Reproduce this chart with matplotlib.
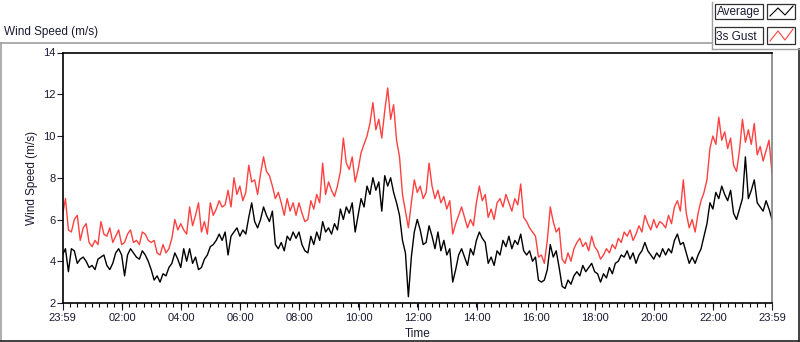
import numpy as np
import matplotlib
matplotlib.use("Agg")
import matplotlib.pyplot as plt
from matplotlib.lines import Line2D
from matplotlib.patches import Rectangle
from matplotlib.ticker import FixedLocator, MultipleLocator

plt.rcParams['font.family'] = ['Liberation Sans', 'DejaVu Sans']

# samples every 6 minutes, starting at 23:59 (t = 0) and ending at 23:59 next day (t = 1440)
step_min = 6

avg_speed = [
    4.3, 4.6, 3.5, 4.6, 4.5, 3.9, 4.1, 4.2, 4.0, 3.7,
    3.8, 3.6, 4.1, 4.2, 4.3, 3.8, 3.6, 3.9, 4.4, 4.6,
    4.3, 3.3, 4.3, 4.6, 4.4, 4.2, 4.1, 4.5, 4.3, 4.0,
    3.6, 3.1, 3.3, 3.0, 3.4, 3.3, 3.7, 3.9, 4.4, 4.1,
    3.7, 4.6,
    4.0, 4.6, 3.9, 4.2, 3.6, 3.7, 4.1, 4.3, 4.7, 4.8,
    5.0, 5.3, 5.0, 5.4, 4.3, 5.2, 5.4, 5.6, 5.2, 5.5,
    5.3, 6.1, 6.8, 5.9, 5.6, 6.0, 6.6, 6.2, 5.9, 6.4,
    4.8, 4.6, 4.9, 4.5, 5.2, 5.0, 5.4, 5.1, 5.4, 4.8,
    4.5,
    4.4, 5.2, 4.8, 5.4, 5.0, 5.9, 5.4, 5.6, 5.3, 5.8,
    5.5, 6.5, 6.0, 6.6, 6.3, 6.8, 5.4, 6.2, 7.0, 6.6,
    7.6, 7.2, 8.0, 7.4, 7.8, 6.4, 8.1, 7.6, 8.0, 7.3,
    6.8, 6.2, 5.0, 4.4, 2.3, 4.2, 5.4, 6.0, 5.5, 4.8,
    4.9, 5.7, 5.2, 4.6, 5.4, 4.5, 5.0, 4.3, 4.6, 3.0,
    3.6, 4.3, 4.6, 4.2, 3.8, 4.6, 4.3, 5.0, 5.4, 5.1,
    4.9, 3.9, 4.2, 3.8, 4.5, 4.3, 5.0, 4.7, 5.2, 4.6,
    5.0, 4.8, 5.3, 4.5, 4.3, 4.5, 4.0, 4.2, 3.1, 3.0,
    3.1,
    3.6, 4.8, 4.2, 4.5, 3.7, 2.8, 2.7, 3.1, 2.9, 3.3,
    3.5, 3.3, 3.8, 3.5, 3.7, 3.9, 3.5, 3.4, 3.0, 3.4,
    3.2, 3.7, 3.4, 3.9, 4.0, 4.3, 4.2, 4.5, 4.1, 4.4,
    3.9, 4.3, 4.5, 4.9, 4.5, 4.3, 4.1, 4.4, 4.2, 4.6,
    4.3, 4.6, 4.4, 5.0, 5.3, 4.8, 4.9, 4.4, 3.9, 4.2,
    3.9, 4.3, 4.6, 5.2, 5.8, 6.8, 6.5, 7.3, 7.0, 7.6,
    7.2, 6.9, 7.4, 6.3, 6.0, 6.5, 7.0, 9.0, 7.0, 7.4,
    7.9, 6.8, 6.6, 6.4, 6.9, 6.5, 6.0,
]

gust_speed = [
    6.2, 7.0, 5.5, 5.4, 6.0, 6.2, 5.0, 5.6, 5.8, 4.9,
    4.7, 5.0, 4.8, 5.9, 5.3, 5.2, 5.6, 4.9, 5.2, 5.5,
    4.8, 4.9, 5.3, 5.5, 4.9, 5.0, 4.8, 5.4, 5.3, 5.0,
    4.9, 5.0, 4.4, 4.3, 4.8, 4.4, 4.6, 5.1, 6.0, 5.5,
    5.8, 5.5,
    5.3, 6.6, 5.7, 6.2, 6.8, 5.4, 5.9, 5.3, 6.8, 6.2,
    6.5, 6.9, 6.6, 6.7, 7.4, 6.6, 8.0, 7.2, 7.6, 6.9,
    7.3, 8.6, 7.8, 7.9, 7.2, 8.2, 9.0, 8.3, 8.1, 7.6,
    7.0, 7.3, 6.8, 6.2, 7.0, 6.4, 6.8, 6.2, 6.8, 6.3,
    5.9,
    6.0, 6.9, 6.5, 7.2, 6.8, 8.7, 7.2, 7.8, 7.4, 7.1,
    7.6, 8.3, 9.9, 8.7, 8.4, 9.0, 7.8, 8.4, 9.2, 9.6,
    10.0, 10.6, 11.6, 10.3, 10.8, 9.9, 11.2, 12.3, 10.8, 11.5,
    9.8, 9.0, 7.2, 6.4, 5.6, 6.8, 7.9, 7.3, 7.6, 7.0,
    7.3, 8.7, 7.6, 7.0, 7.4, 6.8, 7.1, 6.5, 6.9, 5.3,
    5.8, 6.2, 6.6, 6.1, 5.6, 6.0, 5.7, 6.8, 7.6, 6.9,
    7.2, 6.1, 6.5, 6.0, 6.8, 7.0, 6.6, 7.2, 6.8, 6.4,
    7.0, 6.7, 7.7, 6.1, 5.9, 5.6, 5.4, 5.2, 4.2, 4.3,
    3.9,
    5.0, 6.6, 5.9, 5.4, 5.6, 4.1, 3.9, 4.4, 4.0, 4.6,
    4.9, 5.1, 4.7, 4.9, 4.5, 5.2, 4.7, 4.5, 4.1, 4.3,
    4.6, 4.4, 4.8, 4.6, 5.1, 4.9, 5.4, 5.2, 5.5, 5.0,
    5.3, 5.7, 5.4, 6.2, 5.8, 5.5, 6.0, 5.6, 5.9, 5.8,
    5.6, 6.2, 5.8, 6.6, 6.9, 6.4, 7.9, 6.3, 5.6, 6.0,
    5.4, 6.3, 6.9, 7.3, 7.9, 9.4, 10.0, 9.6, 10.9, 9.8,
    10.2, 9.4, 9.9, 8.6, 8.3, 9.3, 10.8, 9.7, 10.3, 9.6,
    10.6, 9.1, 9.5, 8.8, 9.3, 9.8, 8.2,
]

tick_minutes = [0, 121, 241, 361, 481, 601, 721, 841, 961, 1081, 1201, 1321, 1440]
tick_labels = ['23:59', '02:00', '04:00', '06:00', '08:00', '10:00', '12:00',
               '14:00', '16:00', '18:00', '20:00', '22:00', '23:59']
series_names = ['Average', '3s Gust']

W, H = 800, 342
text_col = '#1a1a33'


def fx(px):
    return px / W


def fy(py):
    return 1 - py / H


minutes = np.arange(len(avg_speed)) * step_min

fig = plt.figure(figsize=(8, 3.42), dpi=100)
ax = fig.add_axes([fx(62.5), fy(303), (772 - 62.5) / W, (303 - 52.5) / H])

ax.plot(minutes, gust_speed, color='#ff4040', lw=1.0)
ax.plot(minutes, avg_speed, color='black', lw=1.0)

ax.set_xlim(0, 1440)
ax.set_ylim(2, 14)
ax.xaxis.set_major_locator(FixedLocator(tick_minutes))
ax.set_xticklabels(tick_labels)
ax.xaxis.set_minor_locator(MultipleLocator(15))
ax.set_yticks([2, 4, 6, 8, 10, 12, 14])
ax.tick_params(axis='x', which='major', length=5, width=0.8, labelsize=8, colors=text_col, pad=2)
ax.tick_params(axis='x', which='minor', length=3, width=0.8)
ax.tick_params(axis='y', length=4, width=0.8, labelsize=8, colors=text_col, pad=1)

for side in ['left', 'bottom', 'top']:
    ax.spines[side].set_color('black')
    ax.spines[side].set_linewidth(1.2)
ax.spines['right'].set_color('#808080')
ax.spines['right'].set_linewidth(1.2)

ax.set_xlabel('Time', fontsize=8.5, color=text_col, labelpad=4)
ax.set_ylabel('Wind Speed (m/s)', fontsize=8.5, color=text_col, labelpad=4)

# outer frame
fig.add_artist(Line2D([fx(0), fx(712)], [fy(43), fy(43)], color='#a0a0a0', lw=1.2))
fig.add_artist(Line2D([fx(0.8), fx(0.8)], [fy(43), fy(341)], color='#a0a0a0', lw=1.2))
fig.add_artist(Line2D([fx(0), fx(799)], [fy(340.8), fy(340.8)], color='#202020', lw=1.2))
fig.add_artist(Line2D([fx(799), fx(799)], [fy(49), fy(341)], color='#202020', lw=1.2))
# legend panel frame
fig.add_artist(Line2D([fx(712), fx(712)], [fy(2), fy(49)], color='#a0a0a0', lw=1.0))
fig.add_artist(Line2D([fx(712), fx(799)], [fy(49), fy(49)], color='#a0a0a0', lw=1.0))

fig.text(fx(4), fy(32), 'Wind Speed (m/s)', fontsize=8.5, color=text_col, va='center', ha='left')

# legend boxes
legend_rows = [(4, 19, 'black'), (27, 44, '#ff4040')]
for name, (top, bottom, col) in zip(series_names, legend_rows):
    fig.add_artist(Rectangle((fx(715), fy(bottom)), (763 - 715) / W, (bottom - top) / H,
                             facecolor='white', edgecolor='#303030', lw=0.9))
    fig.add_artist(Rectangle((fx(767), fy(bottom)), (795 - 767) / W, (bottom - top) / H,
                             facecolor='white', edgecolor='#303030', lw=0.9))
    fig.text(fx(716.5), fy((top + bottom) / 2 + 1), name, fontsize=8.5, color=text_col,
             va='center', ha='left')
    zx = [770, 778, 785, 793]
    zy = [bottom - 3, top + 4, bottom - 4, top + 2]
    fig.add_artist(Line2D([fx(v) for v in zx], [fy(v) for v in zy], color=col, lw=0.8))

fig.savefig('out.png', dpi=100, facecolor='white')
